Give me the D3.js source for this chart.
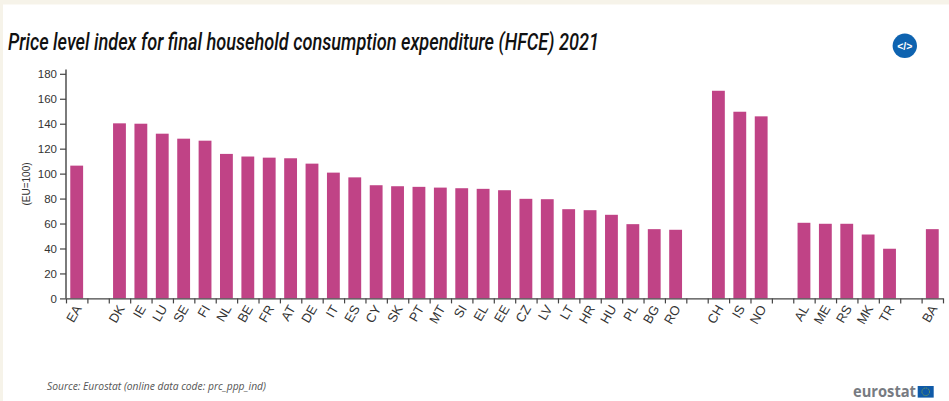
<!DOCTYPE html>
<html><head><meta charset="utf-8">
<script src="https://cdn.jsdelivr.net/npm/d3@7"></script>
<style>
html,body{margin:0;padding:0;background:#f6f3e9;overflow:hidden}
svg{display:block}
text{font-family:"Liberation Sans",Arial,sans-serif}
</style></head><body>
<svg id="c" width="949" height="401"></svg>
<script>
const categories = ["EA","_1","DK","IE","LU","SE","FI","NL","BE","FR","AT","DE","IT","ES","CY","SK","PT","MT","SI","EL","EE","CZ","LV","LT","HR","HU","PL","BG","RO","_2","CH","IS","NO","_3","AL","ME","RS","MK","TR","_4","BA"];
const values = [106.4,null,140.3,140,132,128,126.4,115.8,113.7,112.8,112.3,108,100.8,97,90.7,89.9,89.4,88.8,88.3,87.8,86.7,79.8,79.5,71.5,70.7,67,59.5,55.5,55,null,166.4,149.6,145.9,null,60.6,59.8,59.8,51.2,39.8,null,55.5];
const yTicks = [0,20,40,60,80,100,120,140,160,180];
const titleText = "Price level index for final household consumption expenditure (HFCE) 2021";
const sourceText = "Source: Eurostat (online data code: prc_ppp_ind)";
const yLabel = "(EU=100)";
const barColor = "#c04386";
const axisColor = "#444";

const svg = d3.select("#c");
svg.append("rect").attr("x",3).attr("y",4.5).attr("width",946).attr("height",397).attr("fill","#fff");

const x = d3.scaleBand().domain(categories).range([66,943]).paddingInner(0.4).paddingOuter(0.2);
const edge = d3.scaleLinear().domain([0,categories.length]).range([66,943]);
const y = d3.scaleLinear().domain([0,180]).range([298.4,73.8]);

svg.append("text").attr("x",8).attr("y",50).attr("font-size",24).attr("font-style","italic").attr("font-weight",500)
  .attr("fill","#111").style("font-family","Roboto").attr("textLength",591).attr("lengthAdjust","spacingAndGlyphs").text(titleText);

// bars
svg.append("g").selectAll("rect").data(categories.map((c,i)=>({c,v:values[i]})).filter(d=>d.v!==null))
  .join("rect").attr("x",d=>x(d.c)).attr("width",x.bandwidth()).attr("y",d=>y(d.v)).attr("height",d=>y(0)-y(d.v)).attr("fill",barColor);

// y axis
const gy = svg.append("g").attr("transform","translate(66,0)").call(d3.axisLeft(y).tickValues(yTicks).tickSize(6).tickPadding(3).tickSizeOuter(0));
gy.selectAll("text").attr("font-size",11.5).attr("fill","#333").style("font-family","Liberation Sans");
gy.selectAll("line").attr("stroke",axisColor).attr("stroke-width",1.2);
gy.select(".domain").attr("stroke",axisColor).attr("stroke-width",1.4).attr("d","M0,69.5V298.4");

// x axis: ticks at band edges
const gx = svg.append("g").attr("transform","translate(0,298.4)")
  .call(d3.axisBottom(edge).tickValues(d3.range(0,categories.length+1)).tickSize(5).tickSizeOuter(0).tickFormat(""));
gx.selectAll("line").attr("stroke",axisColor).attr("stroke-width",1.2);
gx.select(".domain").attr("stroke",axisColor).attr("stroke-width",1.4);

// x labels
const gl = svg.append("g").attr("transform","translate(0,298.4)")
  .call(d3.axisBottom(x).tickSize(0).tickFormat(d=>d.startsWith("_")?"":d));
gl.select(".domain").remove();
gl.selectAll("text").attr("font-size",13).attr("fill","#333").attr("text-anchor","end").attr("dy",0).attr("y",0)
  .style("font-family","Liberation Sans")
  .attr("transform","translate(5.5,10) rotate(-60)");

svg.append("text").attr("transform","translate(30,184) rotate(-90)").attr("text-anchor","middle")
  .attr("font-size",10).attr("fill","#333").text(yLabel);

svg.append("text").attr("x",47).attr("y",390).attr("font-size",10.8).attr("font-style","italic")
  .attr("fill","#555").style("font-family","Open Sans").attr("textLength",219).attr("lengthAdjust","spacingAndGlyphs").text(sourceText);

// embed button
svg.append("circle").attr("cx",904.8).attr("cy",45.8).attr("r",12.2).attr("fill","#0e63b0");
svg.append("text").attr("x",904.8).attr("y",49.5).attr("text-anchor","middle").attr("font-size",10.5).attr("font-weight","bold").attr("fill","#fff").text("</>");

// logo
svg.append("text").attr("x",853).attr("y",397).attr("font-size",15.5).attr("font-weight","bold").attr("fill","#777b82")
  .style("font-family","Open Sans").attr("textLength",63).attr("lengthAdjust","spacingAndGlyphs").text("eurostat");
svg.append("rect").attr("x",917.7).attr("y",386).attr("width",16).attr("height",11.6).attr("fill","#0f5aa8");
svg.append("circle").attr("cx",925.7).attr("cy",391.8).attr("r",3.8).attr("fill","none").attr("stroke","#8fae3c").attr("stroke-width",1).attr("stroke-dasharray","1 1");
</script></body></html>
